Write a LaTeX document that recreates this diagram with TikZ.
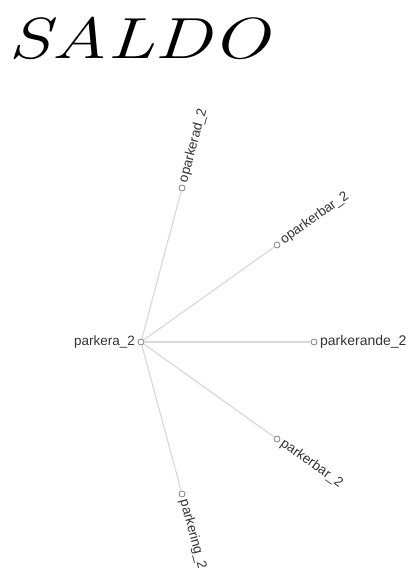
\documentclass[tikz,border=0pt]{standalone}
\usepackage{fontspec}
\setsansfont{Liberation Sans}
\usetikzlibrary{arrows}

\begin{document}
\begin{tikzpicture}[x=1pt,y=1pt,
  link/.style={draw=black!15,line width=1.2pt},
  sense node/.style={circle,draw=black!50,fill=white,line width=0.8pt,inner sep=0pt,minimum size=6pt},
  word/.style={font=\sffamily\fontsize{13.5}{13.5}\selectfont,text=black!80,inner sep=2.5pt}]

 \useasboundingbox (0,0) rectangle (413,568);

 % title
 \node[font=\itshape\fontsize{58}{58}\selectfont,xscale=1.33,inner sep=0pt] (title) at (139,530) {SALDO};

 \node[sense node] (parkera) at (141,226) {};
 \node[sense node] (oparkerad) at (182,380) {};
 \node[sense node] (oparkerbar) at (277,323) {};
 \node[sense node] (parkerande) at (314,226) {};
 \node[sense node] (parkerbar) at (277,129) {};
 \node[sense node] (parkering) at (182,74) {};

 % labels
 \node[word,anchor=east] (l0) at (parkera.west) {parkera\_2};
 \node[word,anchor=west,rotate=75] (l1) at (oparkerad.75) {oparkerad\_2};
 \node[word,anchor=west,rotate=35.5] (l2) at (oparkerbar.35.5) {oparkerbar\_2};
 \node[word,anchor=west,font=\sffamily\fontsize{14}{14}\selectfont] (l3) at (parkerande.east) {parkerande\_2};
 \node[word,anchor=west,rotate=-35.5] (l4) at (parkerbar.-35.5) {parkerbar\_2};
 \node[word,anchor=west,rotate=-75] (l5) at (parkering.-75) {parkering\_2};

 \path[link]
    (parkera) edge (oparkerad)
    (parkera) edge (oparkerbar)
    (parkera) edge (parkerande)
    (parkera) edge (parkerbar)
    (parkera) edge (parkering);

\end{tikzpicture}
\end{document}
